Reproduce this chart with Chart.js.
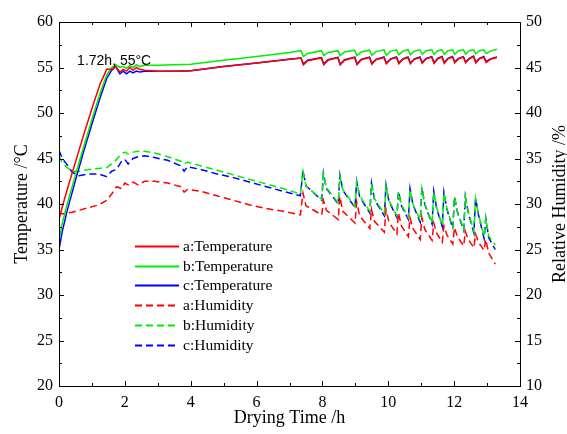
<!DOCTYPE html>
<html>
<head>
<meta charset="utf-8">
<script src="https://cdn.jsdelivr.net/npm/chart.js@4.4.1/dist/chart.umd.min.js"></script>
<style>
  html, body { margin: 0; padding: 0; background: #fff; }
  #wrap { width: 567px; height: 434px; }
</style>
</head>
<body>
<div id="wrap"><canvas id="c"></canvas></div>
<script>
// Drying time (h) for the temperature curves
const tempTime = [0, 0.1, 0.25, 0.5, 0.75, 1.0, 1.25, 1.45, 1.6, 1.72, 1.85, 1.95, 2.05, 2.15, 2.25, 2.35, 2.45, 2.6, 3.0, 3.5, 4.0, 5.0, 6.0, 7.0, 7.35,
  7.42, 7.55, 7.97, 8.04, 8.17, 8.47, 8.54, 8.67, 8.98, 9.05, 9.18, 9.43, 9.50, 9.63, 9.87,
  9.94, 10.07, 10.25, 10.32, 10.44, 10.60, 10.67, 10.79, 10.96, 11.03, 11.15, 11.32,
  11.39, 11.50, 11.63, 11.70, 11.81, 11.95, 12.02, 12.13, 12.28, 12.35, 12.46, 12.59,
  12.66, 12.77, 12.90, 12.97, 13.10, 13.30];

const tempA = [38.3, 39.7, 41.6, 44.6, 47.6, 50.5, 53.2, 54.8, 54.8, 55.1, 54.5, 54.8, 54.6, 55.0, 54.7, 55.0, 54.8, 54.7, 54.6, 54.6, 54.65, 55.1, 55.5, 55.9, 56.05,
  55.3, 55.75, 56.05, 55.3, 55.8, 56.1, 55.3, 55.8, 56.1, 55.3, 55.85, 56.1, 55.35, 55.85, 56.1,
  55.4, 55.9, 56.1, 55.4, 55.9, 56.1, 55.4, 55.9, 56.1, 55.45, 55.95, 56.15,
  55.45, 55.95, 56.15, 55.45, 55.95, 56.15, 55.5, 55.95, 56.15, 55.5, 55.95, 56.2,
  55.5, 55.95, 56.15, 55.55, 55.9, 56.1];

const tempB = [36.0, 37.9, 40.0, 43.2, 46.3, 49.3, 52.2, 54.2, 55.0, 55.3, 55.0, 55.1, 54.9, 55.2, 55.0, 55.3, 55.1, 55.25, 55.25, 55.3, 55.35, 55.8, 56.2, 56.65, 56.85,
  56.2, 56.55, 56.85, 56.3, 56.65, 56.85, 56.3, 56.7, 56.9, 56.3, 56.7, 56.9, 56.35, 56.75, 56.95,
  56.35, 56.8, 56.95, 56.4, 56.8, 56.95, 56.4, 56.8, 56.95, 56.45, 56.85, 56.95,
  56.45, 56.85, 56.95, 56.45, 56.85, 56.95, 56.45, 56.85, 56.95, 56.45, 56.85, 56.95,
  56.5, 56.85, 56.95, 56.55, 56.8, 57.0];

const tempC = [35.0, 37.0, 39.3, 42.6, 45.8, 48.8, 51.7, 53.8, 54.7, 55.1, 54.3, 54.6, 54.3, 54.6, 54.4, 54.6, 54.5, 54.6, 54.6, 54.6, 54.65, 55.1, 55.5, 55.9, 56.05,
  55.4, 55.8, 56.1, 55.4, 55.85, 56.1, 55.35, 55.85, 56.15, 55.4, 55.9, 56.15, 55.45, 55.9, 56.15,
  55.5, 55.95, 56.15, 55.5, 55.95, 56.15, 55.5, 55.95, 56.15, 55.55, 56.0, 56.2,
  55.55, 56.0, 56.2, 55.55, 56.0, 56.2, 55.6, 56.0, 56.2, 55.6, 56.0, 56.25,
  55.6, 56.0, 56.2, 55.65, 55.95, 56.15];

// Drying time (h) for the humidity curves
const humTime = [0, 0.1, 0.25, 0.4, 0.6, 0.9, 1.2, 1.45, 1.6, 1.75, 1.9, 2.0, 2.1, 2.25, 2.4, 2.6, 2.9, 3.3, 3.7, 3.8, 3.9, 4.3, 4.8, 5.3, 5.8, 6.3, 6.8, 7.33,
  7.41, 7.50, 7.98, 8.03, 8.12, 8.48, 8.53, 8.62, 8.99, 9.04, 9.13, 9.44, 9.49, 9.58, 9.88,
  9.93, 10.02, 10.26, 10.31, 10.40, 10.61, 10.66, 10.75, 10.97, 11.02, 11.11, 11.33,
  11.38, 11.47, 11.64, 11.69, 11.78, 11.96, 12.01, 12.10, 12.29, 12.34, 12.43, 12.60,
  12.65, 12.74, 12.91, 12.96, 13.05, 13.25];

const humA = [29.2, 28.9, 29.0, 29.1, 29.3, 29.6, 29.9, 30.4, 31.1, 31.9, 31.7, 32.3, 32.1, 32.4, 32.1, 32.5, 32.5, 32.3, 31.9, 31.3, 31.6, 31.4, 30.9, 30.4, 29.9, 29.5, 29.2, 28.8,
  31.2, 29.8, 28.8, 30.4, 29.3, 28.3, 30.8, 29.2, 27.9, 30.2, 28.7, 27.3, 29.4, 28.1, 26.9,
  29.4, 28.0, 26.7, 29.0, 27.6, 26.4, 28.5, 27.3, 26.1, 28.5, 27.2, 26.0,
  27.9, 26.8, 25.8, 27.6, 26.6, 25.6, 27.4, 26.4, 25.4, 27.0, 26.1, 25.2,
  26.7, 25.8, 24.9, 26.1, 24.6, 23.4];

const humB = [35.3, 34.5, 34.0, 33.6, 33.6, 33.8, 33.9, 34.0, 34.4, 34.9, 35.5, 35.7, 35.5, 35.7, 35.8, 35.8, 35.6, 35.2, 34.7, 34.4, 34.6, 34.2, 33.7, 33.2, 32.7, 32.2, 31.7, 31.1,
  33.6, 32.0, 30.5, 33.3, 31.8, 30.1, 33.1, 31.6, 29.7, 32.4, 30.9, 29.2, 32.2, 30.6, 28.9,
  32.0, 30.4, 28.7, 31.3, 29.9, 28.5, 31.6, 30.0, 28.2, 31.7, 30.0, 27.9,
  31.3, 29.6, 27.6, 31.2, 29.5, 27.4, 30.8, 29.2, 27.2, 30.8, 29.1, 27.0,
  30.6, 28.9, 26.4, 28.5, 26.5, 25.5];

const humC = [35.9, 35.0, 34.3, 33.5, 33.1, 33.3, 33.3, 33.0, 33.6, 33.8, 34.7, 34.9, 34.4, 35.0, 35.2, 35.3, 35.1, 34.8, 34.2, 33.6, 34.1, 33.8, 33.3, 32.9, 32.4, 31.9, 31.4, 30.9,
  33.7, 32.0, 30.4, 33.4, 31.7, 30.0, 33.2, 31.5, 29.6, 32.5, 30.8, 29.0, 32.3, 30.5, 28.7,
  32.1, 30.3, 28.5, 31.4, 29.8, 28.3, 31.7, 29.9, 28.0, 31.8, 29.9, 27.8,
  31.4, 29.5, 27.5, 31.3, 29.4, 27.3, 30.8, 29.1, 27.1, 30.8, 29.0, 26.8,
  30.7, 28.8, 26.2, 28.4, 26.3, 25.0];

const seriesLabels = ['a:Temperature', 'b:Temperature', 'c:Temperature', 'a:Humidity', 'b:Humidity', 'c:Humidity'];
const seriesColors = ['#ff0000', '#00ee00', '#0000ff', '#ff0000', '#00ee00', '#0000ff'];

// annotation for the end of the heating ramp
const noteText = '1.72h, 55\u00b0C';
const notePos = { x: 0.55, y: 55.3 };

const rightTitle = 'Relative Humidity /%';

const serif = 'Liberation Serif, Times New Roman, serif';

function pts(xs, ys) {
    return xs.map((x, i) => ({ x: x, y: ys[i] }));
}

function makeSet(i, data, axis, dashed) {
    return {
        label: seriesLabels[i],
        data: data,
        yAxisID: axis,
        borderColor: seriesColors[i],
        backgroundColor: seriesColors[i],
        borderWidth: 1.5,
        borderDash: dashed ? [7, 4] : [],
        pointRadius: 0,
        fill: false,
        tension: 0
    };
}

// frame, inward ticks, legend, right title and the note are drawn here
const decorPlugin = {
    id: 'decor',
    afterDatasetsDraw(chart) {
        const { ctx, chartArea: a, scales } = chart;
        ctx.save();
        ctx.strokeStyle = '#000';
        ctx.lineWidth = 1;
        ctx.setLineDash([]);
        ctx.strokeRect(a.left + 0.5, a.top + 0.5, a.right - a.left, a.bottom - a.top);

        const seg = (x1, y1, x2, y2) => {
            ctx.beginPath();
            ctx.moveTo(x1, y1);
            ctx.lineTo(x2, y2);
            ctx.stroke();
        };
        const withMinor = (scale) => {
            const vals = scale.ticks.map(t => t.value);
            const out = [];
            vals.forEach((v, i) => {
                out.push([v, 5]);
                if (i < vals.length - 1) out.push([(v + vals[i + 1]) / 2, 3]);
            });
            return out;
        };
        withMinor(scales.x).forEach(([v, len]) => {
            const px = Math.round(scales.x.getPixelForValue(v)) + 0.5;
            seg(px, a.bottom, px, a.bottom - len);
            seg(px, a.top, px, a.top + len);
        });
        withMinor(scales.y).forEach(([v, len]) => {
            const py = Math.round(scales.y.getPixelForValue(v)) + 0.5;
            seg(a.left, py, a.left + len, py);
        });
        withMinor(scales.y1).forEach(([v, len]) => {
            const py = Math.round(scales.y1.getPixelForValue(v)) + 0.5;
            seg(a.right, py, a.right - len, py);
        });

        // legend inside the plot
        const lx = a.left + 76;
        const ly = a.top + 224;
        ctx.font = '15.5px ' + serif;
        ctx.textBaseline = 'middle';
        ctx.textAlign = 'left';
        chart.data.datasets.forEach((ds, i) => {
            const y = Math.round(ly + i * 19.7) + 0.5;
            ctx.strokeStyle = ds.borderColor;
            ctx.lineWidth = 2;
            ctx.setLineDash(ds.borderDash);
            seg(lx, y, lx + 44, y);
            ctx.fillStyle = '#000';
            ctx.fillText(ds.label, lx + 48, y);
        });
        ctx.setLineDash([]);

        // right axis title reads bottom-to-top like the left one
        ctx.save();
        ctx.translate(a.right + 40, (a.top + a.bottom) / 2);
        ctx.rotate(-Math.PI / 2);
        ctx.font = '18px ' + serif;
        ctx.textAlign = 'center';
        ctx.textBaseline = 'middle';
        ctx.fillStyle = '#000';
        ctx.fillText(rightTitle, 0, 0);
        ctx.restore();

        ctx.font = '14px Liberation Sans, Arial, sans-serif';
        ctx.textBaseline = 'alphabetic';
        ctx.textAlign = 'left';
        ctx.fillStyle = '#000';
        ctx.fillText(noteText, scales.x.getPixelForValue(notePos.x), scales.y.getPixelForValue(notePos.y));
        ctx.restore();
    }
};

const tickFont = { family: serif, size: 16 };

new Chart(document.getElementById('c'), {
    type: 'line',
    data: {
        datasets: [
            makeSet(0, pts(tempTime, tempA), 'y', false),
            makeSet(1, pts(tempTime, tempB), 'y', false),
            makeSet(2, pts(tempTime, tempC), 'y', false),
            makeSet(3, pts(humTime, humA), 'y1', true),
            makeSet(4, pts(humTime, humB), 'y1', true),
            makeSet(5, pts(humTime, humC), 'y1', true)
        ]
    },
    options: {
        responsive: true,
        maintainAspectRatio: false,
        animation: false,
        devicePixelRatio: 1,
        layout: { padding: { top: 22, left: 0, right: 0, bottom: 0 } },
        plugins: {
            legend: { display: false },
            tooltip: { enabled: false }
        },
        scales: {
            x: {
                type: 'linear',
                min: 0,
                max: 14,
                ticks: { stepSize: 2, font: tickFont, color: '#000', padding: 7, maxRotation: 0 },
                grid: { display: false, drawTicks: false },
                border: { display: false },
                title: {
                    display: true,
                    text: 'Drying Time /h',
                    font: { family: serif, size: 18 },
                    color: '#000',
                    padding: { top: 0, bottom: 5 }
                },
                afterFit: s => { s.height = 48; }
            },
            y: {
                position: 'left',
                min: 20,
                max: 60,
                ticks: { stepSize: 5, font: tickFont, color: '#000', padding: 6 },
                grid: { display: false, drawTicks: false },
                border: { display: false },
                title: {
                    display: true,
                    text: 'Temperature /\u00b0C',
                    font: { family: serif, size: 18 },
                    color: '#000',
                    padding: { top: 11, bottom: 0 }
                },
                afterFit: s => { s.width = 59; }
            },
            y1: {
                position: 'right',
                min: 10,
                max: 50,
                ticks: { stepSize: 5, font: tickFont, color: '#000', padding: 6 },
                grid: { display: false, drawTicks: false },
                border: { display: false },
                title: { display: false },
                afterFit: s => { s.width = 47; }
            }
        }
    },
    plugins: [decorPlugin]
});
</script>
</body>
</html>
